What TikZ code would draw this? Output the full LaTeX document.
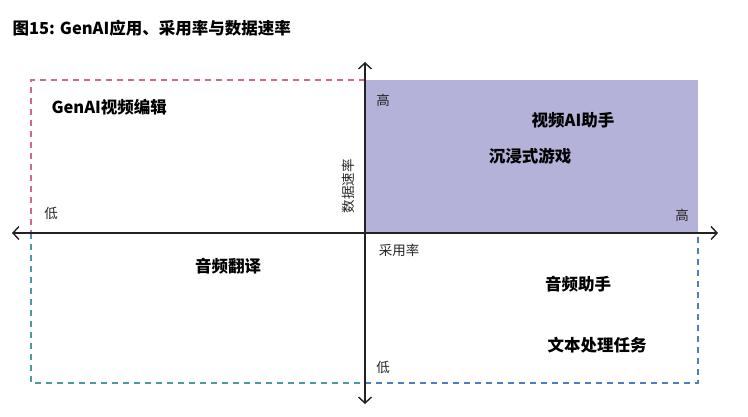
\documentclass[tikz,border=0pt]{standalone}
\usepackage{fontspec}
\setmainfont{Noto Sans CJK SC}
\usetikzlibrary{arrows.meta}
\definecolor{pinkd}{HTML}{D06A8A}
\definecolor{teald}{HTML}{4A9A9E}
\definecolor{blued}{HTML}{4F7CC4}
\definecolor{fillq}{HTML}{B4B2D9}
\definecolor{axis}{HTML}{222222}
\tikzset{
 quad/.style={dashed, dash pattern=on 6pt off 5pt, line width=1.3pt},
 ax/.style={draw=axis, line width=1.4pt, {Straight Barb[length=6pt,width=13pt]}-{Straight Barb[length=6pt,width=13pt]}},
 lab/.style={font=\fontsize{16.5}{18}\selectfont\bfseries, text=black},
 small/.style={font=\fontsize{13.5}{15}\selectfont, text=black!85}
}
\begin{document}
\begin{tikzpicture}[x=1pt,y=-1pt]
\useasboundingbox (0,0) rectangle (748,416);
\node[anchor=west, font=\fontsize{16.5}{18}\selectfont\bfseries] (title) at (9,28) {图15: GenAI应用、采用率与数据速率};
\fill[fillq] (365,80) rectangle (698,233);
\draw[quad, pinkd] (365,80) -- (31,80) -- (31,233);
\draw[quad, teald] (31,233) -- (31,383) -- (365,383);
\draw[quad, blued] (365,383) -- (698,383) -- (698,233);
\coordinate (xl) at (12,233); \coordinate (xr) at (718,233);
\coordinate (yt) at (365,62); \coordinate (yb) at (365,404);
\draw[ax] (xl) -- (xr);
\draw[ax] (yt) -- (yb);
\node[lab, anchor=west] (a) at (48,107) {GenAI视频编辑};
\node[lab] (b) at (573,120) {视频AI助手};
\node[lab] (c) at (530,156) {沉浸式游戏};
\node[lab] (d) at (228,266) {音频翻译};
\node[lab] (e) at (578,284) {音频助手};
\node[lab] (f) at (597,345) {文本处理任务};
\node[small] (h1) at (383,100) {高};
\node[small] (l1) at (51,213) {低};
\node[small] (h2) at (682,215) {高};
\node[small] (ar) at (399,250) {采用率};
\node[small] (l2) at (383,367) {低};
\node[small, rotate=90] (dr) at (348,186) {数据速率};
\end{tikzpicture}
\end{document}
